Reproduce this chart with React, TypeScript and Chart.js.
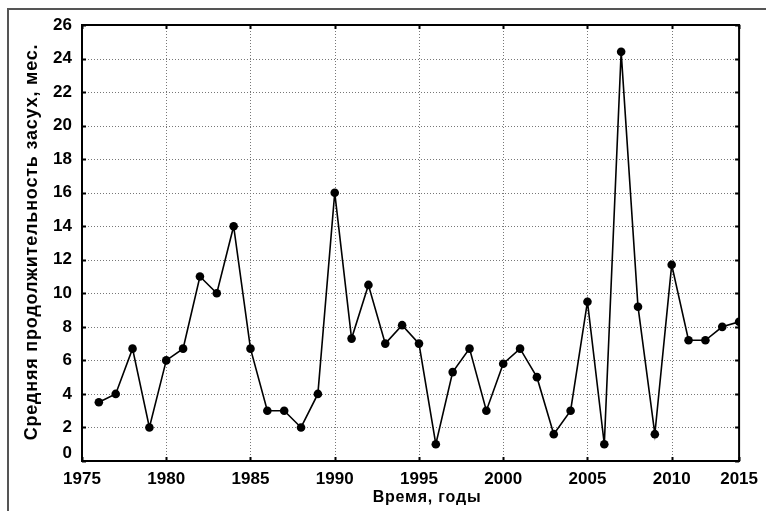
import React, { useEffect, useRef } from "react";
import { Chart, registerables } from "chart.js";

Chart.register(...registerables);

const years = [
  1976, 1977, 1978, 1979, 1980, 1981, 1982, 1983, 1984, 1985,
  1986, 1987, 1988, 1989, 1990, 1991, 1992, 1993, 1994, 1995,
  1996, 1997, 1998, 1999, 2000, 2001, 2002, 2003, 2004, 2005,
  2006, 2007, 2008, 2009, 2010, 2011, 2012, 2013, 2014,
];
const durations = [
  3.5, 4, 6.7, 2, 6, 6.7, 11, 10, 14, 6.7,
  3, 3, 2, 4, 16, 7.3, 10.5, 7, 8.1, 7,
  1, 5.3, 6.7, 3, 5.8, 6.7, 5, 1.6, 3, 9.5,
  1, 24.4, 9.2, 1.6, 11.7, 7.2, 7.2, 8, 8.3,
];
const xTickValues = [1975, 1980, 1985, 1990, 1995, 2000, 2005, 2010, 2014];
const xTickLabels = ["1975", "1980", "1985", "1990", "1995", "2000", "2005", "2010", "2015"];
const yTickValues = [0, 2, 4, 6, 8, 10, 12, 14, 16, 18, 20, 22, 24, 26];
const xTitle = "Время, годы";
const yTitle = "Средняя продолжительность засух, мес.";

const FONT = "'Liberation Sans', Arial, sans-serif";

const gridPlugin = {
  id: "gridPlugin",
  beforeDatasetsDraw(chart: any) {
    const { ctx, chartArea } = chart;
    const { left, top, right, bottom } = chartArea;
    const xs = chart.scales.x;
    const ys = chart.scales.y;
    ctx.save();
    ctx.strokeStyle = "#777";
    ctx.lineWidth = 1;
    ctx.setLineDash([1, 2]);
    ctx.beginPath();
    xTickValues.forEach((v) => {
      const px = Math.round(xs.getPixelForValue(v)) + 0.5;
      if (px <= left + 2 || px >= right - 2) return;
      ctx.moveTo(px, top);
      ctx.lineTo(px, bottom);
    });
    yTickValues.forEach((v) => {
      const py = Math.round(ys.getPixelForValue(v)) + 0.5;
      if (py <= top + 2 || py >= bottom - 2) return;
      ctx.moveTo(left, py);
      ctx.lineTo(right, py);
    });
    ctx.stroke();
    ctx.restore();
  },
};

const framePlugin = {
  id: "framePlugin",
  afterDraw(chart: any) {
    const { ctx, chartArea } = chart;
    const { left, top, right, bottom } = chartArea;
    ctx.save();
    // outer frame
    ctx.strokeStyle = "#555";
    ctx.lineWidth = 2;
    ctx.beginPath();
    ctx.moveTo(8, 511);
    ctx.lineTo(8, 9);
    ctx.lineTo(766, 9);
    ctx.stroke();
    // plot box
    ctx.strokeStyle = "#000";
    ctx.lineWidth = 2;
    ctx.strokeRect(left, top, right - left, bottom - top);
    // inner ticks
    const xs = chart.scales.x;
    const ys = chart.scales.y;
    ctx.beginPath();
    xTickValues.forEach((v) => {
      const px = Math.round(xs.getPixelForValue(v)) + 0.5;
      ctx.moveTo(px, bottom);
      ctx.lineTo(px, bottom - 4);
      ctx.moveTo(px, top);
      ctx.lineTo(px, top + 4);
    });
    yTickValues.forEach((v) => {
      const py = Math.round(ys.getPixelForValue(v)) + 0.5;
      ctx.moveTo(left, py);
      ctx.lineTo(left + 4, py);
      ctx.moveTo(right, py);
      ctx.lineTo(right - 4, py);
    });
    ctx.stroke();
    // titles
    ctx.fillStyle = "#000";
    ctx.textAlign = "center";
    ctx.textBaseline = "middle";
    ctx.font = `bold 16px ${FONT}`;
    (ctx as any).letterSpacing = "0.8px";
    ctx.fillText(xTitle, 427, 498);
    ctx.font = `bold 18px ${FONT}`;
    (ctx as any).letterSpacing = "0.8px";
    ctx.translate(32, (top + bottom) / 2 - 1);
    ctx.rotate(-Math.PI / 2);
    ctx.fillText(yTitle, 0, 0);
    ctx.restore();
  },
};

export default function App() {
  const ref = useRef<HTMLCanvasElement>(null);
  useEffect(() => {
    if (!ref.current) return;
    const chart = new Chart(ref.current, {
      type: "line",
      data: {
        datasets: [
          {
            data: years.map((y, i) => ({ x: y, y: durations[i] })),
            borderColor: "#000",
            backgroundColor: "#000",
            borderWidth: 1.6,
            pointRadius: 4.3,
            pointBackgroundColor: "#000",
            pointBorderColor: "#000",
            pointBorderWidth: 0,
            tension: 0,
          },
        ],
      },
      options: {
        animation: false,
        responsive: false,
        devicePixelRatio: 1,
        layout: { padding: { top: 25, right: 25, left: 0, bottom: 0 } },
        plugins: { legend: { display: false }, tooltip: { enabled: false } },
        scales: {
          x: {
            type: "linear",
            min: 1975,
            max: 2014,
            afterBuildTicks: (scale: any) => {
              scale.ticks = xTickValues.map((v) => ({ value: v }));
            },
            afterFit: (scale: any) => {
              scale.height = 50;
            },
            ticks: {
              autoSkip: false,
              maxRotation: 0,
              padding: 8,
              color: "#000",
              font: { family: FONT, size: 17, weight: "bold" },
              callback: (v: any) => {
                const i = xTickValues.indexOf(Number(v));
                return i >= 0 ? xTickLabels[i] : "";
              },
            },
            grid: { display: false, drawTicks: false, tickLength: 0 },
            border: { display: false },
          },
          y: {
            min: 0,
            max: 26,
            afterBuildTicks: (scale: any) => {
              scale.ticks = yTickValues.map((v) => ({ value: v }));
            },
            afterFit: (scale: any) => {
              scale.width = 82;
            },
            ticks: {
              padding: 10,
              color: "#000",
              font: (c: any) =>
                c.tick && c.tick.value === 0
                  ? { family: FONT, size: 17, weight: "bold", lineHeight: 0.85 }
                  : { family: FONT, size: 17, weight: "bold" },
              callback: (v: any) => (Number(v) === 0 ? ["0", ""] : String(v)),
            },
            grid: { display: false, drawTicks: false, tickLength: 0 },
            border: { display: false },
          },
        },
      },
      plugins: [gridPlugin, framePlugin],
    });
    return () => chart.destroy();
  }, []);
  return (
    <div style={{ position: "absolute", left: 0, top: 0, width: 766, height: 511, background: "#fff" }}>
      <canvas ref={ref} width={766} height={511} style={{ display: "block" }} />
    </div>
  );
}
